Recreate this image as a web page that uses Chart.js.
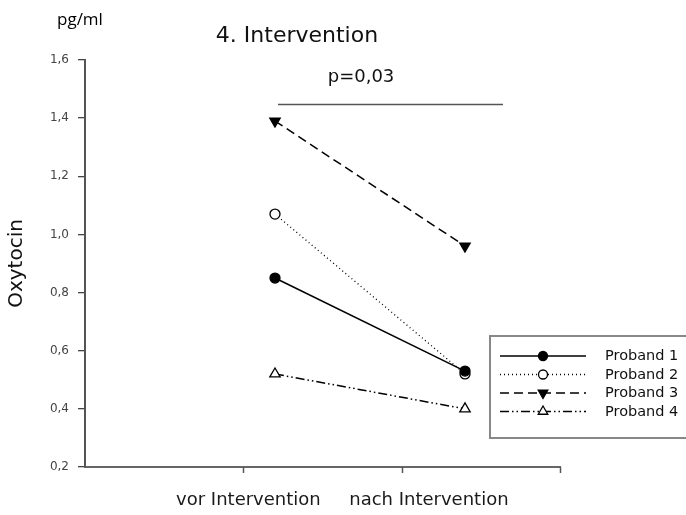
<!DOCTYPE html>
<html>
<head>
<meta charset="utf-8">
<script src="https://cdn.jsdelivr.net/npm/chart.js@4.4.1/dist/chart.umd.min.js"></script>
<style>
html,body{margin:0;padding:0;background:#fff;}
#wrap{width:686px;height:515px;position:relative;}
</style>
</head>
<body>
<div id="wrap"><canvas id="c" width="686" height="515"></canvas></div>
<script>
// ---- data ----
const categories = ['vor Intervention', 'nach Intervention'];
const seriesNames = ['Proband 1', 'Proband 2', 'Proband 3', 'Proband 4'];
const proband1 = [0.85, 0.53];
const proband2 = [1.07, 0.52];
const proband3 = [1.39, 0.96];
const proband4 = [0.52, 0.40];
const yTicks = [0.2, 0.4, 0.6, 0.8, 1.0, 1.2, 1.4, 1.6];
const titleText = '4. Intervention';
const unitText = 'pg/ml';
const yTitle = 'Oxytocin';
const pText = 'p=0,03';

// ---- layout helpers (positions, not data) ----
const catPos = [1, 2];              // category positions on x scale
const xMin = 0, xMax = 2.5;
const xTickMarks = [xMax / 3, 2 * xMax / 3, xMax];
const xLabelPos = [0.86, 1.81];
const FONT = '"DejaVu Sans", "Liberation Sans", Arial, sans-serif';

const styles = [
  {dash: [], pointStyle: 'circle', radius: 5, bg: '#000', rot: 0},
  {dash: [1, 3], pointStyle: 'circle', radius: 5, bg: '#fff', rot: 0},
  {dash: [9, 5], pointStyle: 'triangle', radius: 6, bg: '#000', rot: 180},
  {dash: [9, 3, 1.5, 3, 1.5, 3], pointStyle: 'triangle', radius: 6, bg: '#fff', rot: 0}
];
const values = [proband1, proband2, proband3, proband4];

const datasets = values.map((vals, i) => ({
  label: seriesNames[i],
  data: vals.map((v, j) => ({x: catPos[j], y: v})),
  borderColor: '#000',
  borderWidth: i === 1 ? 1.3 : 1.5,
  borderDash: styles[i].dash,
  pointStyle: styles[i].pointStyle,
  pointRotation: styles[i].rot,
  pointRadius: styles[i].radius,
  pointBackgroundColor: styles[i].bg,
  pointBorderColor: '#000',
  pointBorderWidth: 1.3,
  tension: 0,
  fill: false
}));

const annotations = {
  id: 'annotations',
  afterDraw(chart) {
    const ctx = chart.ctx;
    ctx.save();
    // unit
    ctx.fillStyle = '#000';
    ctx.textBaseline = 'alphabetic';
    ctx.textAlign = 'left';
    ctx.font = '17px "Open Sans", sans-serif';
    ctx.fillText(unitText, 57, 25);
    // title
    ctx.fillStyle = '#111';
    ctx.textAlign = 'center';
    ctx.font = '22px ' + FONT;
    ctx.fillText(titleText, 297, 42);
    // p-value
    ctx.font = '18px ' + FONT;
    ctx.fillText(pText, 361, 82);
    ctx.strokeStyle = '#555';
    ctx.lineWidth = 1.5;
    ctx.beginPath();
    ctx.moveTo(278, 104.5);
    ctx.lineTo(503, 104.5);
    ctx.stroke();

    // x tick marks
    const xs = chart.scales.x, ys = chart.scales.y;
    const yb = ys.getPixelForValue(yTicks[0]);
    ctx.strokeStyle = '#555';
    ctx.lineWidth = 1.5;
    xTickMarks.forEach(v => {
      const px = Math.round(xs.getPixelForValue(v)) + 0.5;
      ctx.beginPath();
      ctx.moveTo(px, yb);
      ctx.lineTo(px, yb + 6);
      ctx.stroke();
    });

    // legend box
    const bx = 490, by = 336, bw = 215, bh = 102;
    ctx.strokeStyle = '#888';
    ctx.lineWidth = 2;
    ctx.strokeRect(bx, by, bw, bh);
    const rowY = [356, 374.5, 393, 411.5];
    chart.data.datasets.forEach((ds, i) => {
      const y = rowY[i];
      ctx.strokeStyle = '#000';
      ctx.lineWidth = ds.borderWidth;
      ctx.setLineDash(ds.borderDash);
      ctx.beginPath();
      ctx.moveTo(500, y);
      ctx.lineTo(586, y);
      ctx.stroke();
      ctx.setLineDash([]);
      ctx.fillStyle = ds.pointBackgroundColor;
      ctx.strokeStyle = '#000';
      ctx.lineWidth = ds.pointBorderWidth;
      Chart.helpers.drawPoint(ctx, {pointStyle: ds.pointStyle, rotation: ds.pointRotation, radius: ds.pointRadius - 0.5, borderWidth: ds.pointBorderWidth}, 543, y);
      ctx.fillStyle = '#111';
      ctx.textAlign = 'left';
      ctx.textBaseline = 'middle';
      ctx.font = '14.5px ' + FONT;
      ctx.fillText(ds.label, 605, y + 0.5);
    });
    ctx.restore();
  }
};

new Chart(document.getElementById('c'), {
  type: 'line',
  data: {datasets},
  options: {
    responsive: false,
    animation: false,
    devicePixelRatio: 1,
    layout: {padding: {top: 60, right: 126, bottom: 0, left: 0}},
    plugins: {legend: {display: false}, tooltip: {enabled: false}, title: {display: false}},
    scales: {
      x: {
        type: 'linear', min: xMin, max: xMax,
        position: 'bottom',
        afterFit(s) { s.height = 48; },
        afterBuildTicks(s) { s.ticks = xLabelPos.map(v => ({value: v})); },
        grid: {display: false},
        border: {display: true, color: '#666', width: 2},
        ticks: {
          padding: 15,
          color: '#1a1a1a',
          font: {family: FONT, size: 18},
          callback: (v, i) => categories[i],
          maxRotation: 0, autoSkip: false
        }
      },
      y: {
        min: 0.2, max: 1.6,
        afterFit(s) { s.width = 85; },
        afterBuildTicks(s) { s.ticks = yTicks.map(v => ({value: v})); },
        grid: {display: true, drawOnChartArea: false, drawTicks: true, tickLength: 7, color: '#444', lineWidth: 1.3},
        border: {display: true, color: '#555', width: 2},
        ticks: {
          padding: 9,
          color: '#444',
          font: {family: FONT, size: 12},
          callback: v => v.toFixed(1).replace('.', ',')
        },
        title: {
          display: true, text: yTitle, color: '#111',
          font: {family: FONT, size: 20},
          padding: {top: 5, bottom: 0}
        }
      }
    }
  },
  plugins: [annotations]
});
</script>
</body>
</html>
